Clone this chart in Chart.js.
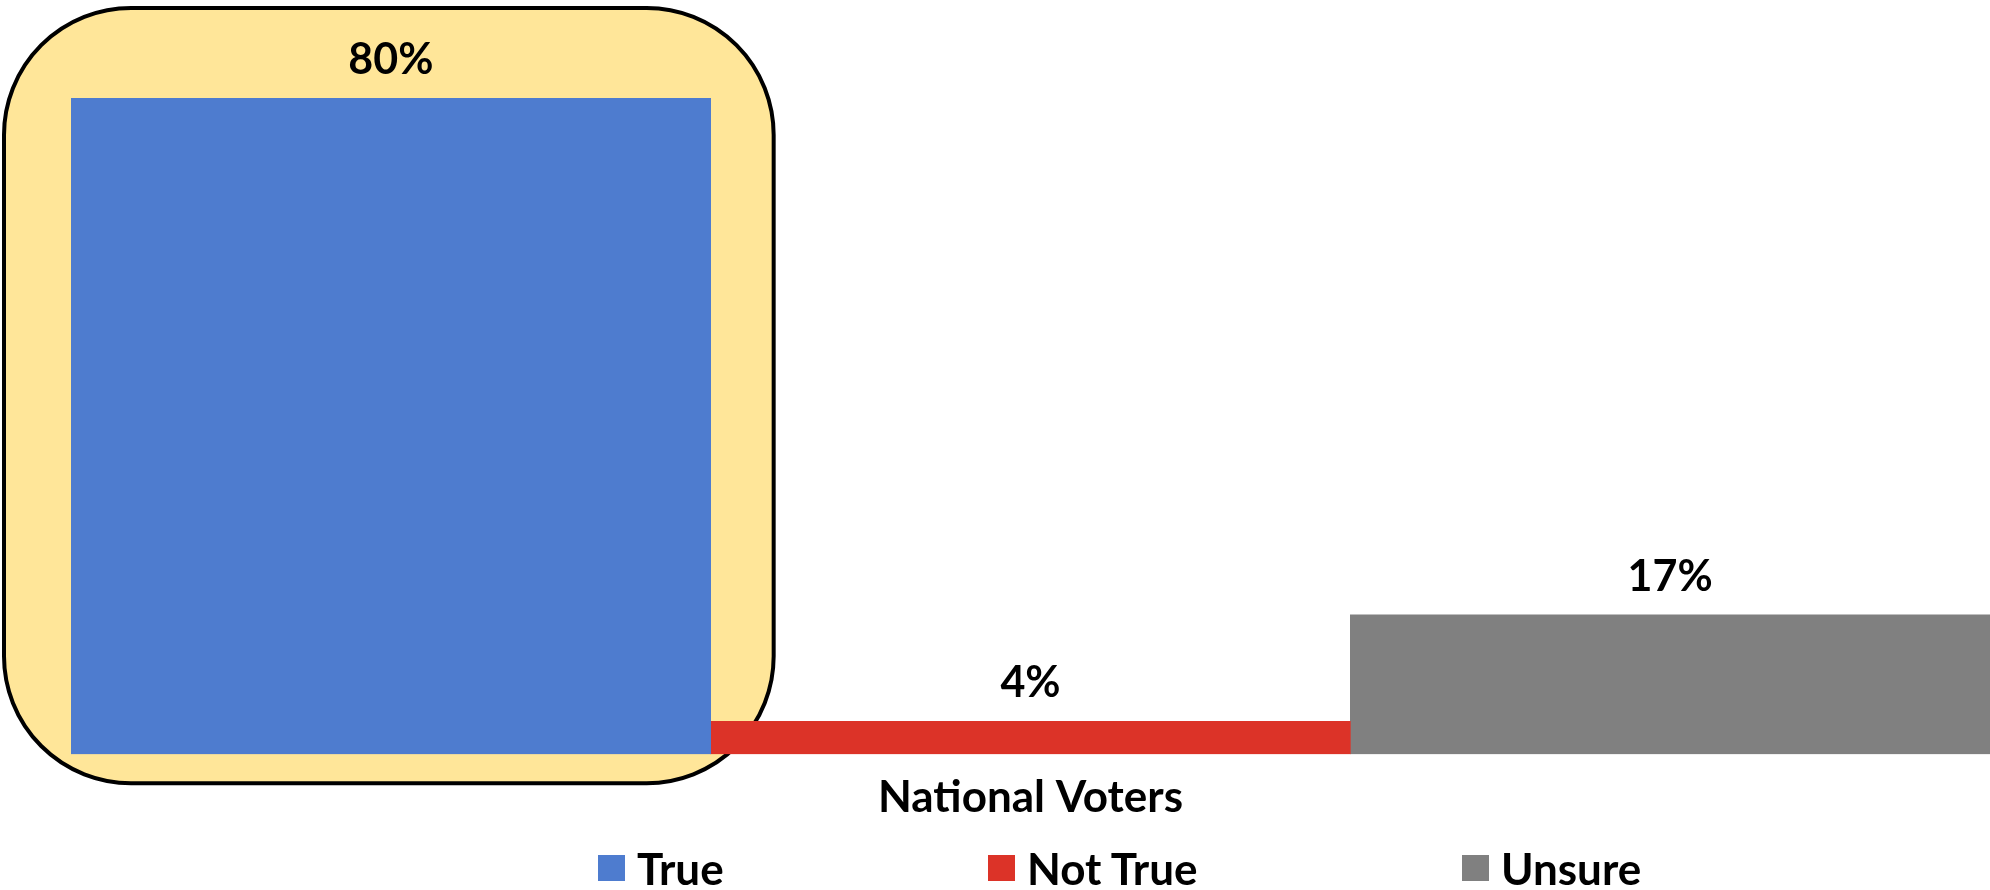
<!DOCTYPE html>
<html>
<head>
<meta charset="utf-8">
<script src="https://cdn.jsdelivr.net/npm/chart.js@4.4.0/dist/chart.umd.min.js"></script>
<style>
  html, body { margin: 0; padding: 0; background: #fff; }
  #wrap { position: relative; width: 1990px; height: 890px; }
  #legend { position: absolute; top: 842px; left: 0; width: 1990px; height: 52px; font: bold 44px Lato, sans-serif; color: #000; }
  .item { position: absolute; top: 0; display: flex; align-items: center; height: 52px; }
  .box { width: 27px; height: 26px; margin-right: 12px; }
</style>
</head>
<body>
<div id="wrap">
  <canvas id="chart" width="1990" height="890"></canvas>
  <div id="legend"></div>
</div>
<script>
const categories = ["National Voters"];
const seriesNames = ["True", "Not True", "Unsure"];
const trueValues = [80];
const notTrueValues = [4];
const unsureValues = [17];
const colors = ["#4E7CCF", "#DC3328", "#808080"];

const FONT = "Lato, sans-serif";

// yellow highlight box behind the "True" bar
const highlight = {
  id: "highlight",
  beforeDatasetsDraw(chart) {
    const bar = chart.getDatasetMeta(0).data[0];
    if (!bar) return;
    const ctx = chart.ctx;
    const left = bar.x - bar.width / 2 - 67;
    const right = bar.x + bar.width / 2 + 63;
    const top = bar.y - 90;
    const bottom = bar.base + 29;
    ctx.save();
    ctx.beginPath();
    ctx.roundRect(left, top, right - left, bottom - top, 127);
    ctx.fillStyle = "#FFE699";
    ctx.fill();
    ctx.lineWidth = 4;
    ctx.strokeStyle = "#000";
    ctx.stroke();
    ctx.restore();
  }
};

// value labels above bars
const valueLabels = {
  id: "valueLabels",
  afterDatasetsDraw(chart) {
    const ctx = chart.ctx;
    ctx.save();
    ctx.font = "bold 43px " + FONT;
    ctx.fillStyle = "#000";
    ctx.textAlign = "center";
    ctx.textBaseline = "middle";
    chart.data.datasets.forEach((ds, i) => {
      chart.getDatasetMeta(i).data.forEach((bar, j) => {
        ctx.fillText(ds.data[j] + "%", bar.x, bar.y - 38);
      });
    });
    ctx.restore();
  }
};

const chart = new Chart(document.getElementById("chart"), {
  type: "bar",
  data: {
    labels: categories,
    datasets: [
      { label: seriesNames[0], data: trueValues, backgroundColor: colors[0] },
      { label: seriesNames[1], data: notTrueValues, backgroundColor: colors[1] },
      { label: seriesNames[2], data: unsureValues, backgroundColor: colors[2] }
    ]
  },
  options: {
    responsive: false,
    animation: false,
    layout: { padding: { left: 71, right: 0, top: 98, bottom: 57 } },
    datasets: { bar: { barPercentage: 1, categoryPercentage: 1 } },
    scales: {
      x: {
        grid: { display: false },
        border: { display: false },
        ticks: { color: "#000", padding: 9, font: { family: FONT, size: 44, weight: "bold" } }
      },
      y: { display: false, min: 0, max: 80 }
    },
    plugins: { legend: { display: false }, tooltip: { enabled: false } }
  },
  plugins: [highlight, valueLabels]
});

// legend
const legendLeft = [598, 988, 1462];
const legend = document.getElementById("legend");
chart.data.datasets.forEach((ds, i) => {
  const item = document.createElement("div");
  item.className = "item";
  item.style.left = legendLeft[i] + "px";
  item.innerHTML = '<span class="box" style="background:' + ds.backgroundColor + '"></span><span>' + ds.label + '</span>';
  legend.appendChild(item);
});
</script>
</body>
</html>
